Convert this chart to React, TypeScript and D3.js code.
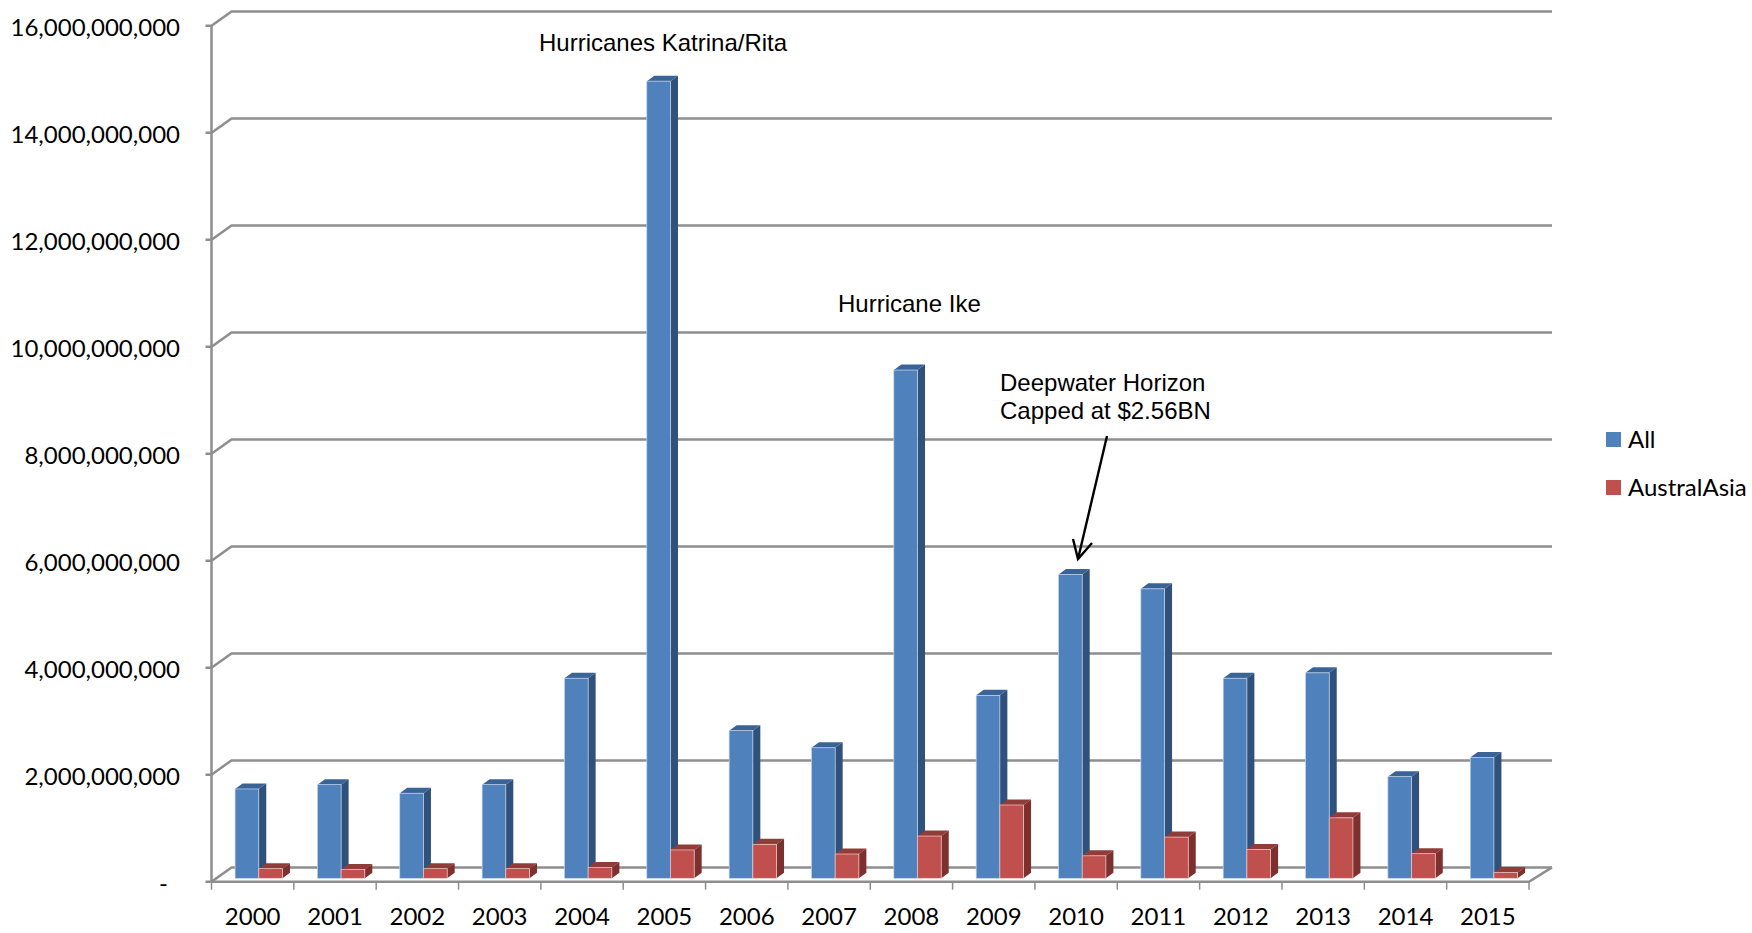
import React from "react";
import * as d3 from "d3";

const years = ["2000","2001","2002","2003","2004","2005","2006","2007","2008","2009","2010","2011","2012","2013","2014","2015"];
const allValues = [1.67,1.75,1.59,1.75,3.74,14.9,2.76,2.44,9.5,3.42,5.68,5.41,3.74,3.84,1.90,2.26].map(v => v * 1e9);
const australAsiaValues = [0.18,0.165,0.18,0.18,0.2,0.53,0.635,0.454,0.79,1.37,0.42,0.77,0.54,1.13,0.46,0.11].map(v => v * 1e9);
const yTicks = [0,2,4,6,8,10,12,14,16].map(v => v * 1e9);

const W = 1752, H = 933;
const x = d3.scaleBand<string>().domain(years).range([211.5, 1529]).paddingInner(0).paddingOuter(0);
const y = d3.scaleLinear().domain([0, 16e9]).range([881.7, 25.7]);
const DX = 20, DY = 14.3;
const barW = 23.7, barDX = 7.5, barDY = 5.5, baseY = 878.3;
const h = (v: number) => y(0) - y(v);
const fmt = d3.format(",");
const GRID = "#8e8e8e";

const Bar = ({ bx, v, front, top, side, edge }: { bx: number; v: number; front: string; top: string; side: string; edge: string }) => {
  const ty = baseY - h(v);
  return (
    <g>
      <path d={`M${bx},${ty}L${bx + barDX},${ty - barDY}H${bx + barW + barDX}L${bx + barW},${ty}Z`} fill={top} />
      <path d={`M${bx + barW},${ty}L${bx + barW + barDX},${ty - barDY}V${baseY - barDY}L${bx + barW},${baseY}Z`} fill={side} />
      <rect x={bx} y={ty} width={barW} height={baseY - ty} fill={front} stroke={edge} strokeWidth={0.7} />
    </g>
  );
};

export default function App() {
  const band = x.bandwidth();
  const axisFont = { fontFamily: "Lato, sans-serif", fontSize: 24, fill: "#000" };
  const noteFont = { fontFamily: "'Liberation Sans', Arial, sans-serif", fontSize: 24, fill: "#000" };
  return (
    <svg width={W} height={H} viewBox={`0 0 ${W} ${H}`} style={{ position: "absolute", left: 0, top: 0, display: "block", background: "#fff" }}>
      {/* walls and gridlines */}
      <g fill="none" stroke={GRID} strokeWidth={2.5}>
        {yTicks.map(t => (
          <path key={t} d={`M${x.range()[0] - 6},${y(t)}H${x.range()[0]}L${x.range()[0] + DX},${y(t) - DY}H${x.range()[1] + DX + 3}`} />
        ))}
        <path d={`M${x.range()[0]},${y(16e9)}V${y(0)}H${x.range()[1]}L${x.range()[1] + DX + 3},${y(0) - DY}`} />
        {[...years.map(d => x(d)!), x.range()[1]].map((px, i) => (
          <path key={i} d={`M${px},${y(0)}v8`} strokeWidth={1.5} />
        ))}
      </g>
      {/* bars */}
      {years.map((d, i) => {
        const x0 = x(d)! + band / 2 - 17.6;
        return (
          <g key={d}>
            <Bar bx={x0} v={allValues[i]} front="#4f81bd" top="#3a6498" side="#30517c" edge="#c5d6ea" />
            <Bar bx={x0 + barW} v={australAsiaValues[i]} front="#c0504d" top="#923c3a" side="#7d302e" edge="#eccdcc" />
          </g>
        );
      })}
      {/* axis labels */}
      {yTicks.map(t => (
        <text key={t} x={t === 0 ? 168 : 180} y={y(t) + 10.4} textAnchor="end" {...axisFont}>{t === 0 ? "-" : fmt(t)}</text>
      ))}
      {years.map(d => (
        <text key={d} x={x(d)! + band / 2} y={925} textAnchor="middle" {...axisFont}>{d}</text>
      ))}
      {/* annotations */}
      <text x={539} y={51} {...noteFont}>Hurricanes Katrina/Rita</text>
      <text x={838} y={312} {...noteFont}>Hurricane Ike</text>
      <text x={1000} y={391} {...noteFont}>Deepwater Horizon</text>
      <text x={1000} y={419} {...noteFont}>Capped at $2.56BN</text>
      <g fill="none" stroke="#000" strokeWidth={2.4}>
        <path d="M1107,436L1078,559" />
        <path d="M1073,539L1078,559L1092,543" />
      </g>
      {/* legend */}
      <rect x={1606} y={432} width={15} height={15} fill="#4f81bd" />
      <text x={1628} y={448} {...axisFont}>All</text>
      <rect x={1606} y={480} width={15} height={15} fill="#c0504d" />
      <text x={1628} y={496} {...axisFont}>AustralAsia</text>
    </svg>
  );
}
